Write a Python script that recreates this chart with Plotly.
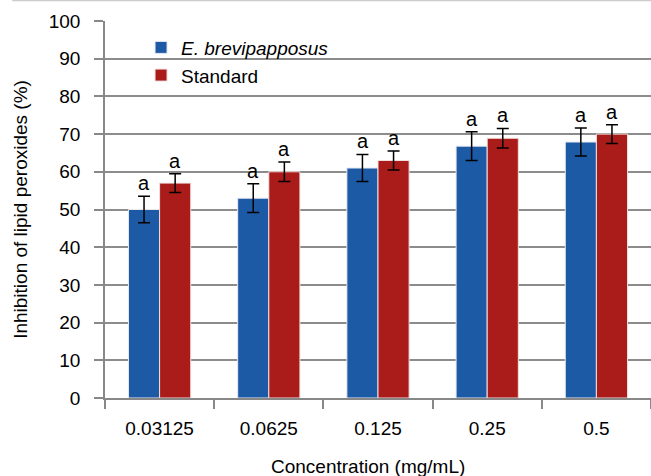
import plotly.graph_objects as go

categories = ["0.03125", "0.0625", "0.125", "0.25", "0.5"]
extract_vals = [50.0, 53.0, 61.0, 66.8, 67.9]
extract_err = [3.5, 3.8, 3.6, 3.8, 3.7]
standard_vals = [57.0, 60.0, 63.0, 68.9, 70.0]
standard_err = [2.5, 2.6, 2.5, 2.6, 2.5]
labels_extract = ["a", "a", "a", "a", "a"]
labels_standard = ["a", "a", "a", "a", "a"]
x_title = "Concentration (mg/mL)"
y_title = "Inhibition of lipid peroxides (%)"

BLUE = "#1C5AA6"
RED = "#AA1C1A"
FONT = "Liberation Sans, Arial, Helvetica, sans-serif"
FS = 19

fig = go.Figure()
fig.add_trace(go.Bar(
    x=categories, y=extract_vals, name="<i>E. brevipapposus</i>",
    marker=dict(color=BLUE, line=dict(color="#E8E8F0", width=1)),
    error_y=dict(type="data", array=extract_err, color="black", thickness=1.5, width=6),
))
fig.add_trace(go.Bar(
    x=categories, y=standard_vals, name="Standard",
    marker=dict(color=RED, line=dict(color="#F0E0E0", width=1)),
    error_y=dict(type="data", array=standard_err, color="black", thickness=1.5, width=6),
))

for i in range(len(categories)):
    fig.add_annotation(x=i, y=extract_vals[i] + extract_err[i], text=labels_extract[i],
                       xshift=-15.5, yshift=0, yanchor="bottom", showarrow=False,
                       font=dict(size=20, color="black", family=FONT))
    fig.add_annotation(x=i, y=standard_vals[i] + standard_err[i], text=labels_standard[i],
                       xshift=15.5, yshift=0, yanchor="bottom", showarrow=False,
                       font=dict(size=20, color="black", family=FONT))

# x-axis title (slightly left of plot centre, as in the reference)
fig.add_annotation(xref="paper", yref="paper", x=(367.5 - 105) / 546, y=-68 / 377,
                   xanchor="center", yanchor="middle", showarrow=False, text=x_title,
                   font=dict(size=FS, color="black", family=FONT))

fig.add_shape(type="line", xref="paper", yref="paper", x0=-0.17, x1=1.0,
              y0=1 + 20.5 / 377, y1=1 + 20.5 / 377,
              line=dict(color="#CCCCCC", width=1.5))

fig.update_layout(
    width=651, height=476,
    margin=dict(l=105, r=0, t=21, b=78, autoexpand=False),
    paper_bgcolor="white", plot_bgcolor="white",
    barmode="group", bargap=0.43, bargroupgap=0,
    font=dict(family=FONT, size=FS, color="black"),
    showlegend=True,
    legend=dict(x=0.066, y=0.98, xanchor="left", yanchor="top",
                font=dict(size=FS, color="black", family=FONT),
                bgcolor="rgba(0,0,0,0)", tracegroupgap=5, itemwidth=30),
    xaxis=dict(
        type="category", range=[-0.5, 4.5], tickson="boundaries",
        ticks="outside", ticklen=9, tickcolor="#888888", tickwidth=1.5,
        showline=True, linecolor="#888888", linewidth=1.5,
        showgrid=False, ticklabelstandoff=12,
        tickfont=dict(size=FS, color="black", family=FONT),
    ),
    yaxis=dict(
        range=[0, 100], dtick=10, tick0=0,
        ticks="outside", ticklen=9, tickcolor="#888888", tickwidth=1.5,
        showline=True, linecolor="#888888", linewidth=1.5,
        showgrid=True, gridcolor="#8C8C8C", gridwidth=1.5,
        zeroline=False, ticklabelstandoff=10,
        title=dict(text=y_title, standoff=16,
                   font=dict(size=FS, color="black", family=FONT)),
        tickfont=dict(size=FS, color="black", family=FONT),
    ),
)

fig.write_html("out.html", config={"displayModeBar": False},
               post_script="document.body.style.margin='0px';")
